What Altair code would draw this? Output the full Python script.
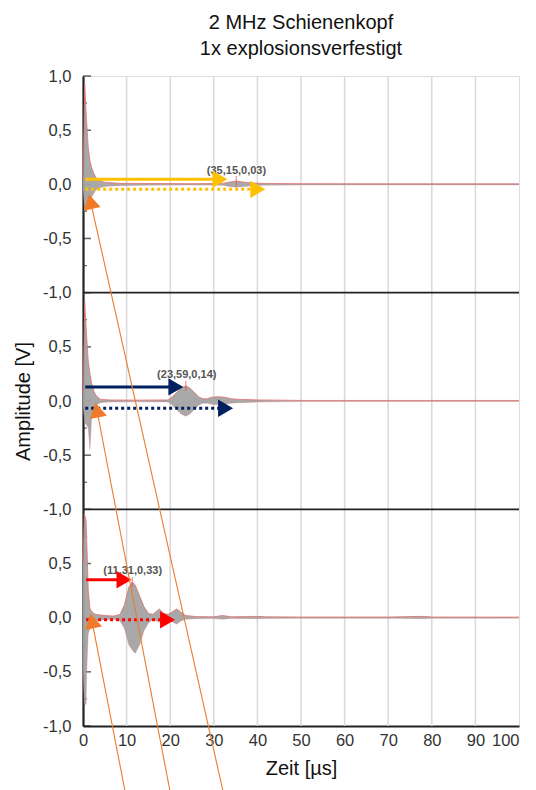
import altair as alt
import pandas as pd

# ---------------- data ----------------
# envelope of each trace (local amplitude in V), time in microseconds
top_t = [0, 0.4, 0.8, 1.2, 1.6, 2.0, 2.5, 3.0, 4.0, 5.0, 8, 15, 25, 32, 33.5, 35.15, 37, 39, 42, 50, 70, 100]
top_up = [0.05, 0.92, 0.6, 0.34, 0.22, 0.15, 0.1, 0.06, 0.03, 0.02, 0.01, 0.008, 0.006, 0.008, 0.02, 0.03, 0.02, 0.012, 0.008, 0.006, 0.005, 0.005]
top_lo = [-0.05, -0.25, -0.25, -0.22, -0.18, -0.12, -0.08, -0.05, -0.03, -0.02, -0.012, -0.008, -0.006, -0.008, -0.02, -0.028, -0.02, -0.012, -0.008, -0.006, -0.005, -0.005]

mid_t = [0, 0.4, 0.8, 1.2, 1.6, 2.0, 2.5, 3.0, 4.0, 6, 12, 19.5, 20.5, 21.5, 22.5, 23.59, 24.5, 25.5, 26.5, 27.5, 28.5, 29.5, 31, 32.5, 34, 36, 40, 45, 50, 100]
mid_up = [0.05, 0.91, 0.62, 0.37, 0.25, 0.16, 0.09, 0.05, 0.015, 0.01, 0.008, 0.01, 0.04, 0.08, 0.12, 0.14, 0.12, 0.08, 0.04, 0.02, 0.02, 0.035, 0.04, 0.035, 0.02, 0.015, 0.01, 0.008, 0.005, 0.005]
mid_lo = [-0.05, -0.2, -0.22, -0.25, -0.45, -0.15, -0.08, -0.04, -0.015, -0.01, -0.008, -0.01, -0.04, -0.08, -0.12, -0.14, -0.12, -0.08, -0.04, -0.02, -0.02, -0.03, -0.035, -0.03, -0.02, -0.015, -0.01, -0.008, -0.005, -0.005]

bot_t = [0, 0.3, 0.7, 0.85, 1.2, 1.6, 2.4, 3, 5, 7, 8.5, 9.5, 10.5, 11.31, 12, 13, 14, 15, 16, 17.5, 18.5, 19.5, 21.5, 22.5, 23.5, 26, 30, 32, 34, 40, 42, 50, 70, 78, 80, 100]
bot_up = [0.5, 0.96, 0.9, 0.73, 0.26, 0.08, 0.04, 0.03, 0.02, 0.015, 0.03, 0.12, 0.28, 0.33, 0.3, 0.2, 0.1, 0.04, 0.03, 0.08, 0.04, 0.03, 0.08, 0.05, 0.02, 0.01, 0.008, 0.02, 0.008, 0.012, 0.008, 0.006, 0.006, 0.012, 0.006, 0.005]
bot_lo = [-0.5, -0.8, -0.8, -0.5, -0.15, -0.1, -0.06, -0.03, -0.02, -0.015, -0.03, -0.1, -0.25, -0.3, -0.33, -0.25, -0.12, -0.05, -0.02, -0.04, -0.02, -0.02, -0.06, -0.03, -0.015, -0.01, -0.008, -0.015, -0.008, -0.01, -0.008, -0.006, -0.006, -0.01, -0.006, -0.005]

# panel offsets on the stacked amplitude axis (top, middle, bottom)
offsets = {"top": 4, "mid": 2, "bot": 0}

# peaks with labels
peak_panel = ["top", "mid", "bot"]
peak_t = [35.15, 23.59, 11.31]
peak_a = [0.03, 0.14, 0.33]
peak_text = ["(35,15,0,03)", "(23,59,0,14)", "(11,31,0,33)"]
label_t = [35.2, 23.8, 11.4]
label_a = [0.12, 0.24, 0.43]

# horizontal arrows: panel, start time, end time, local amplitude, style, colour
arr_panel = ["top", "top", "mid", "mid", "bot", "bot"]
arr_t0 = [0.5, 0.5, 0.5, 0.5, 0.7, 0.7]
arr_t1 = [31.4, 40.1, 21.3, 32.7, 9.4, 19.4]
arr_a = [0.046, -0.046, 0.13, -0.067, 0.35, -0.02]
arr_dash = ["solid", "dotted", "solid", "dotted", "solid", "dotted"]
arr_col = ["#FFC000", "#FFC000", "#002060", "#002060", "#FF0000", "#FF0000"]

# orange diagonal lines (start at arrow head, global stacked amplitude)
diag_id = ["A", "B", "C"]
diag_t0 = [1.72, 3.19, 2.06]
diag_y0 = [3.842, 1.917, -0.029]
diag_t1 = [32.1, 19.95, 9.63]
diag_y1 = [-1.6, -1.6, -1.6]
diag_angle = [347.5, 348.8, 348.3]

grid_x = [10, 20, 30, 40, 50, 60, 70, 80, 90]
sep_y = [1, 3]
major_y = [-1 + 0.5 * i for i in range(13)]
minor_y = [-0.75 + 0.5 * i for i in range(12)]

# ---------------- frames ----------------
rows = []
for name, ts, ups, los in [("top", top_t, top_up, top_lo), ("mid", mid_t, mid_up, mid_lo), ("bot", bot_t, bot_up, bot_lo)]:
    off = offsets[name]
    for t, u, l in zip(ts, ups, los):
        rows.append({"panel": name, "t": t, "up": u + off, "lo": l + off})
sig = pd.DataFrame(rows)

peaks = pd.DataFrame({
    "panel": peak_panel, "t": peak_t,
    "y": [a + offsets[p] for a, p in zip(peak_a, peak_panel)],
    "lt": label_t,
    "ly": [a + offsets[p] for a, p in zip(label_a, peak_panel)],
    "text": peak_text,
})

arrows = pd.DataFrame({
    "id": list(range(6)), "t0": arr_t0, "t1": arr_t1,
    "y": [a + offsets[p] for a, p in zip(arr_a, arr_panel)],
    "dash": arr_dash, "col": arr_col,
})
diag = pd.DataFrame({"id": diag_id, "t0": diag_t0, "y0": diag_y0, "t1": diag_t1, "y1": diag_y1, "angle": diag_angle})

W, H = 436, 650
FONT = "Liberation Sans"

xs = alt.Scale(domain=[0, 100], nice=False, zero=False)
ys = alt.Scale(domain=[-1, 5], nice=False, zero=False)

label_expr = ("datum.value == 5 ? '1,0' : ((((datum.value + 1) % 2) - 1) < 0 ? '-' : '') + "
              "replace(format(abs(((datum.value + 1) % 2) - 1), '.1f'), '.', ',')")

base = alt.Chart(sig)

grid = alt.Chart(pd.DataFrame({"x": grid_x})).mark_rule(color="#D9D9D9", strokeWidth=1.5).encode(
    x=alt.X("x:Q", scale=xs, axis=alt.Axis(values=list(range(0, 101, 10)), title="Zeit [µs]", grid=False,
                                            ticks=False, domainColor="#222", domainWidth=2.2, labelFlush=False,
                                            labelAlign={"condition": {"test": "datum.value == 100", "value": "right"},
                                                        "value": "center"},
                                            labelFont=FONT, labelFontSize=16.5, labelColor="#333",
                                            labelPadding=6, titleFont=FONT, titleFontSize=20,
                                            titleFontWeight="normal", titleColor="#111", titlePadding=10)),
    y=alt.datum(-1, scale=ys, axis=alt.Axis(values=major_y, labelExpr=label_expr, title="Amplitude [V]",
                                             grid=False, ticks=False, domainColor="#222", domainWidth=2.2,
                                             labelFlush=False,
                                             labelFont=FONT, labelFontSize=16.5, labelColor="#333",
                                             labelPadding=12, titleFont=FONT, titleFontSize=20,
                                             titleFontWeight="normal", titleColor="#111", titlePadding=9)),
    y2=alt.datum(5),
)

seps = alt.Chart(pd.DataFrame({"y": sep_y})).mark_rule(color="#222", strokeWidth=1.8).encode(
    x=alt.datum(0, scale=xs), x2=alt.datum(100), y=alt.Y("y:Q", scale=ys))

tick_major = alt.Chart(pd.DataFrame({"y": major_y})).mark_tick(color="#222", thickness=1.5, size=8).encode(
    y=alt.Y("y:Q", scale=ys), x=alt.value(4))
tick_minor = alt.Chart(pd.DataFrame({"y": minor_y})).mark_tick(color="#222", thickness=1.2, size=4).encode(
    y=alt.Y("y:Q", scale=ys), x=alt.value(2))

area = base.mark_area(color="#A3A3A3", opacity=0.95).encode(
    x=alt.X("t:Q", scale=xs), y=alt.Y("up:Q", scale=ys), y2="lo:Q", detail="panel:N")
red_up = base.mark_line(color="#E46A6A", strokeWidth=1, opacity=0.75).encode(
    x=alt.X("t:Q", scale=xs), y=alt.Y("up:Q", scale=ys), detail="panel:N")
red_lo = base.mark_line(color="#E46A6A", strokeWidth=0.8, opacity=0.35).encode(
    x=alt.X("t:Q", scale=xs), y=alt.Y("lo:Q", scale=ys), detail="panel:N")

peak_tick = alt.Chart(peaks).mark_tick(color="#E84040", thickness=1, size=10, orient="vertical").encode(
    x=alt.X("t:Q", scale=xs), y=alt.Y("y:Q", scale=ys))
peak_lbl = alt.Chart(peaks).mark_text(font=FONT, fontSize=11, color="#555", fontWeight="bold").encode(
    x=alt.X("lt:Q", scale=xs), y=alt.Y("ly:Q", scale=ys), text="text:N")

layers = [grid, seps, tick_major, tick_minor, area, red_lo, red_up, peak_tick, peak_lbl]

for i, r in arrows.iterrows():
    d = pd.DataFrame({"t": [r.t0, r.t1], "y": [r.y, r.y]})
    dash = [3, 3] if r.dash == "dotted" else [1, 0]
    ln = alt.Chart(d).mark_line(color=r.col, strokeWidth=3, strokeDash=dash).encode(
        x=alt.X("t:Q", scale=xs), y=alt.Y("y:Q", scale=ys))
    hd = alt.Chart(pd.DataFrame({"t": [r.t1], "y": [r.y]})).mark_point(
        shape="triangle-right", filled=True, color=r.col, size=300, opacity=1).encode(
        x=alt.X("t:Q", scale=xs), y=alt.Y("y:Q", scale=ys))
    layers += [ln, hd]

diag_lines = alt.Chart(diag).mark_rule(color="#EE7A2A", strokeWidth=1.1).encode(
    x=alt.X("t0:Q", scale=xs), x2="t1:Q", y=alt.Y("y0:Q", scale=ys), y2="y1:Q")
diag_heads = alt.Chart(diag).mark_point(shape="triangle-up", filled=True, color="#EE7A2A", size=300, opacity=1).encode(
    x=alt.X("t0:Q", scale=xs), y=alt.Y("y0:Q", scale=ys), angle=alt.Angle("angle:Q", scale=None))
layers += [diag_lines, diag_heads]

chart = alt.layer(*layers).properties(
    width=W, height=H,
    title=alt.TitleParams(["2 MHz Schienenkopf", "1x explosionsverfestigt"], font=FONT, fontSize=20,
                          fontWeight="normal", color="#111", anchor="middle", offset=9, lineHeight=26),
).configure_view(stroke=None).configure(background="white")

chart.save("out.html", embed_options={"renderer": "svg", "actions": False})
